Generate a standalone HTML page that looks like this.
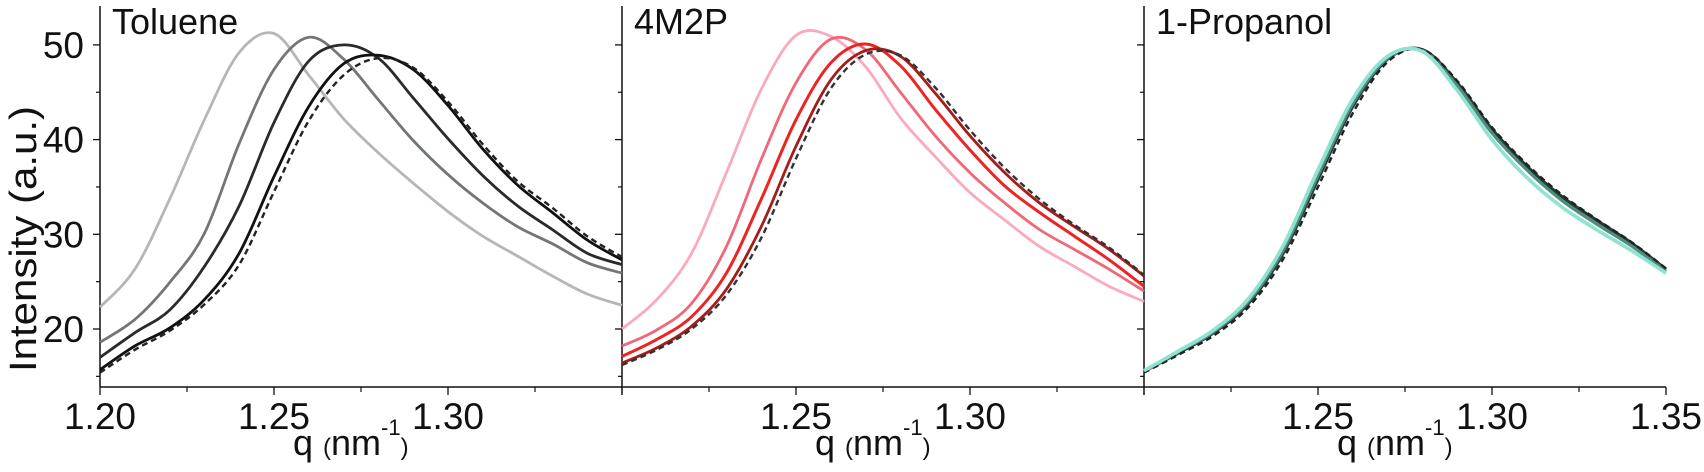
<!DOCTYPE html>
<html><head><meta charset="utf-8"><style>
html,body{margin:0;padding:0;background:#fff;}
svg{display:block;font-family:"Liberation Sans",Arial,sans-serif;}
</style></head><body>
<svg id="chart" width="1704" height="472" viewBox="0 0 1704 472" xmlns="http://www.w3.org/2000/svg">
<text x="0" y="0" transform="translate(36,239) rotate(-90)" text-anchor="middle" font-size="38" textLength="266" lengthAdjust="spacingAndGlyphs" fill="#111">Intensity (a.u.)</text>
</svg>
<script>
const qValues = [1.20,1.21,1.22,1.23,1.24,1.25,1.26,1.27,1.28,1.29,1.30,1.31,1.32,1.33,1.34,1.35];
const yTicksMajor = [20,30,40,50];
const yTicksMinor = [15,25,35,45];
const xTicksMajor = [1.20,1.25,1.30,1.35];
const xTicksMinor = [1.225,1.275,1.325];
const panelTitles = ["Toluene","4M2P","1-Propanol"];
const xTickLabelsP1 = ["1.20","1.25","1.30"];
const xTickLabelsP2 = ["1.25","1.30"];
const xTickLabelsP3 = ["1.25","1.30","1.35"];
const yTickLabels = ["20","30","40","50"];

const tolA = [22.3,26.3,33.7,42.1,49.2,51.2,46.8,42.2,38.6,35.4,32.4,29.8,27.7,25.6,23.7,22.5];
const tolB = [18.6,21.0,24.9,30.1,39.6,47.4,50.8,48.5,44.2,39.9,36.3,33.3,30.8,29.0,27.0,25.9];
const tolC = [17.0,19.6,22.0,26.6,33.0,41.8,48.3,50.0,48.6,44.4,40.1,36.2,33.0,30.5,28.0,26.8];
const tolD = [15.7,18.2,20.1,23.1,28.0,36.1,43.5,48.0,48.9,47.4,43.6,39.0,35.2,32.3,29.4,27.3];
const tolE = [15.4,17.8,19.8,22.6,26.8,34.5,42.0,46.8,48.6,47.6,44.0,39.5,35.6,32.8,29.8,27.6];

const m2pA = [20.0,23.1,28.0,36.5,45.3,51.0,50.9,47.7,42.3,38.2,34.4,31.5,28.7,26.6,24.5,22.9];
const m2pB = [18.2,19.9,22.7,28.7,37.9,46.0,50.6,49.5,45.0,40.4,36.5,33.3,30.5,28.4,26.3,24.0];
const m2pC = [17.1,18.9,21.3,25.9,33.7,42.1,48.1,50.1,47.8,43.2,38.9,35.1,32.3,29.8,27.3,24.5];
const m2pD = [16.4,18.0,20.3,24.2,30.8,39.3,46.3,49.4,48.8,44.9,40.4,36.5,33.3,30.8,28.4,25.6];
const m2pE = [16.2,17.8,20.0,23.6,29.6,38.0,45.4,49.0,48.9,45.5,41.0,37.0,33.7,31.0,28.6,25.7];

const proA = [15.5,17.5,19.6,22.7,28.0,35.8,43.5,48.5,49.5,46.0,41.1,37.2,34.0,31.5,29.1,26.3];
const proB = [15.5,17.6,19.7,22.9,28.3,36.2,43.8,48.6,49.4,45.7,40.7,36.8,33.6,31.1,28.8,26.1];
const proC = [15.6,17.7,19.9,23.2,28.8,36.8,44.3,48.8,49.3,45.2,40.0,36.0,32.9,30.5,28.3,25.9];
const proE = [15.4,17.3,19.3,22.3,27.4,35.0,42.8,48.2,49.5,46.2,41.3,37.4,34.2,31.6,29.2,26.4];

const NS = "http://www.w3.org/2000/svg";
const svg = document.getElementById('chart');
const PW = 522, X0 = 100, YBOT = 387;
function xPix(p, q){ return X0 + p*PW + (q-1.20)/0.15*PW; }
function yPix(v){ return 329 - (v-20)*9.47; }
function mk(tag, attrs){ const e=document.createElementNS(NS,tag); for(const k in attrs) e.setAttribute(k,attrs[k]); svg.appendChild(e); return e; }
function pathFor(p, vals){
  const pts = qValues.map((q,i)=>[xPix(p,q), yPix(vals[i])]);
  let d = `M${pts[0][0].toFixed(1)},${pts[0][1].toFixed(1)}`;
  for(let i=0;i<pts.length-1;i++){
    const p0=pts[Math.max(0,i-1)], p1=pts[i], p2=pts[i+1], p3=pts[Math.min(pts.length-1,i+2)];
    const c1=[p1[0]+(p2[0]-p0[0])/6, p1[1]+(p2[1]-p0[1])/6];
    const c2=[p2[0]-(p3[0]-p1[0])/6, p2[1]-(p3[1]-p1[1])/6];
    d += ` C${c1[0].toFixed(1)},${c1[1].toFixed(1)} ${c2[0].toFixed(1)},${c2[1].toFixed(1)} ${p2[0].toFixed(1)},${p2[1].toFixed(1)}`;
  }
  return d;
}
const tickLabelSets = [xTickLabelsP1, xTickLabelsP2, xTickLabelsP3];
for(let p=0;p<3;p++){
  const ax = xPix(p,1.20);
  const yl = mk('line',{x1:ax,y1:6,x2:ax,y2:YBOT,stroke:'#111','stroke-width':1.5});
  
  
  const xl = mk('line',{x1:ax,y1:YBOT,x2:xPix(p,1.35),y2:YBOT,stroke:'#111','stroke-width':1.5});
  
  
  yTicksMajor.forEach((v,i)=>{
    const t = mk('line',{x1:ax-7,y1:yPix(v),x2:ax,y2:yPix(v),stroke:'#111','stroke-width':1.3});
    
    
    if(p===0){
      const tl = mk('text',{x:ax-16,y:yPix(v)+13,'text-anchor':'end','font-size':37,fill:'#111'});
      tl.textContent = yTickLabels[i];
      
      
    }
  });
  yTicksMinor.forEach(v=>{
    const t = mk('line',{x1:ax-4,y1:yPix(v),x2:ax,y2:yPix(v),stroke:'#111','stroke-width':1.2});
    
    
  });
  xTicksMajor.forEach(q=>{
    const t = mk('line',{x1:xPix(p,q),y1:YBOT,x2:xPix(p,q),y2:YBOT+8,stroke:'#111','stroke-width':1.3});
    
    
  });
  xTicksMinor.forEach(q=>{
    const t = mk('line',{x1:xPix(p,q),y1:YBOT,x2:xPix(p,q),y2:YBOT+5,stroke:'#111','stroke-width':1.2});
    
    
  });
  tickLabelSets[p].forEach(s=>{
    const t = mk('text',{x:xPix(p,parseFloat(s)),y:429,'text-anchor':'middle','font-size':37,fill:'#111'});
    t.textContent = s;
    
    
  });
  const tt = mk('text',{x:ax+12,y:34,'font-size':36,fill:'#111'});
  tt.textContent = panelTitles[p];
  
  
  const xt = mk('text',{x:ax+193,y:455,'font-size':36,fill:'#111'});
  
  
  xt.innerHTML = 'q <tspan font-size="24">(</tspan>nm<tspan font-size="22" dy="-20">-1</tspan><tspan font-size="24" dy="20">)</tspan>';
}
const series = [
  [0,tolA,'#b3b7b6',2.8,null],[0,tolB,'#727776',2.8,null],[0,tolC,'#2a2a2a',2.8,null],[0,tolD,'#111',2.8,null],[0,tolE,'#222',2.4,'6,4'],
  [1,m2pA,'#f9aabc',2.8,null],[1,m2pB,'#f06878',2.8,null],[1,m2pC,'#ee2424',3,null],[1,m2pD,'#a41c1c',2.8,null],[1,m2pE,'#333',2.4,'6,4'],
  [2,proA,'#1e3d34',3.2,null],[2,proB,'#4f8c7c',3.2,null],[2,proE,'#222',2.4,'6,4'],[2,proC,'#8fe3d0',3.6,null]
];
series.forEach(s=>{
  const el = mk('path',{d:pathFor(s[0],s[1]),fill:'none',stroke:s[2],'stroke-width':s[3],'stroke-linejoin':'round'});
  if(s[4]) el.setAttribute('stroke-dasharray',s[4]);
  
  
});
</script>
</body></html>
